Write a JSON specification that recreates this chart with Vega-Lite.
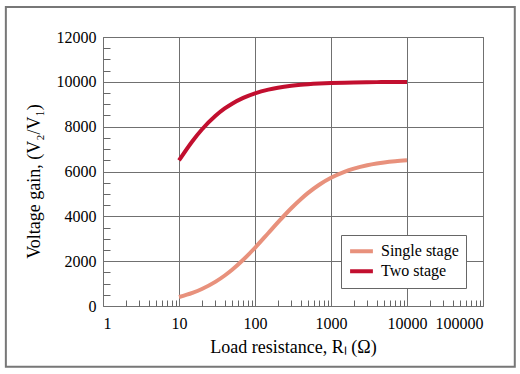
{
  "$schema": "https://vega.github.io/schema/vega-lite/v6.json",
  "width": 380,
  "height": 269,
  "autosize": "none",
  "padding": {"left": 103, "top": 37, "right": 37, "bottom": 68},
  "background": "white",
  "config": {
    "font": "Liberation Serif",
    "view": {"stroke": "#666666", "strokeWidth": 1},
    "axis": {
      "labelFont": "Liberation Serif",
      "titleFont": "Liberation Serif",
      "labelFontSize": 16,
      "titleFontSize": 18,
      "titleFontWeight": "normal",
      "labelColor": "black",
      "titleColor": "black",
      "gridColor": "#707070",
      "gridOpacity": 1,
      "gridWidth": 1
    }
  },
  "datasets": {
    "curves": [
      {"R": 10, "gain": 402, "stage": "Single stage"},
      {"R": 15, "gain": 586, "stage": "Single stage"},
      {"R": 20, "gain": 759, "stage": "Single stage"},
      {"R": 30, "gain": 1076, "stage": "Single stage"},
      {"R": 40, "gain": 1361, "stage": "Single stage"},
      {"R": 50, "gain": 1618, "stage": "Single stage"},
      {"R": 70, "gain": 2063, "stage": "Single stage"},
      {"R": 100, "gain": 2598, "stage": "Single stage"},
      {"R": 150, "gain": 3257, "stage": "Single stage"},
      {"R": 200, "gain": 3729, "stage": "Single stage"},
      {"R": 300, "gain": 4361, "stage": "Single stage"},
      {"R": 400, "gain": 4765, "stage": "Single stage"},
      {"R": 500, "gain": 5046, "stage": "Single stage"},
      {"R": 700, "gain": 5410, "stage": "Single stage"},
      {"R": 1000, "gain": 5719, "stage": "Single stage"},
      {"R": 1500, "gain": 5985, "stage": "Single stage"},
      {"R": 2000, "gain": 6128, "stage": "Single stage"},
      {"R": 3000, "gain": 6278, "stage": "Single stage"},
      {"R": 4000, "gain": 6355, "stage": "Single stage"},
      {"R": 5000, "gain": 6403, "stage": "Single stage"},
      {"R": 7000, "gain": 6458, "stage": "Single stage"},
      {"R": 10000, "gain": 6500, "stage": "Single stage"},
      {"R": 10, "gain": 6494, "stage": "Two stage"},
      {"R": 15, "gain": 7353, "stage": "Two stage"},
      {"R": 20, "gain": 7874, "stage": "Two stage"},
      {"R": 30, "gain": 8475, "stage": "Two stage"},
      {"R": 40, "gain": 8811, "stage": "Two stage"},
      {"R": 50, "gain": 9025, "stage": "Two stage"},
      {"R": 70, "gain": 9284, "stage": "Two stage"},
      {"R": 100, "gain": 9488, "stage": "Two stage"},
      {"R": 150, "gain": 9653, "stage": "Two stage"},
      {"R": 200, "gain": 9737, "stage": "Two stage"},
      {"R": 300, "gain": 9823, "stage": "Two stage"},
      {"R": 400, "gain": 9867, "stage": "Two stage"},
      {"R": 500, "gain": 9893, "stage": "Two stage"},
      {"R": 700, "gain": 9923, "stage": "Two stage"},
      {"R": 1000, "gain": 9946, "stage": "Two stage"},
      {"R": 1500, "gain": 9964, "stage": "Two stage"},
      {"R": 2000, "gain": 9973, "stage": "Two stage"},
      {"R": 3000, "gain": 9982, "stage": "Two stage"},
      {"R": 4000, "gain": 9987, "stage": "Two stage"},
      {"R": 5000, "gain": 9989, "stage": "Two stage"},
      {"R": 7000, "gain": 9992, "stage": "Two stage"},
      {"R": 10000, "gain": 9995, "stage": "Two stage"}
    ]
  },
  "layer": [
    {
      "data": {"values": [{}]},
      "mark": {"type": "rect", "fill": null, "stroke": "#777777", "strokeWidth": 2},
      "encoding": {
        "x": {"datum": 0.0527, "type": "quantitative", "scale": {"type": "log", "domain": [1, 100000]}, "axis": null},
        "x2": {"datum": 262000},
        "y": {"datum": -2711, "type": "quantitative", "scale": {"domain": [0, 12000]}, "axis": null},
        "y2": {"datum": 13333}
      }
    },
    {
      "data": {"name": "curves"},
      "mark": {"type": "line", "strokeWidth": 4, "strokeCap": "butt", "interpolate": "monotone"},
      "encoding": {
        "x": {
          "field": "R", "type": "quantitative",
          "scale": {"type": "log", "domain": [1, 100000]},
          "axis": {
            "values": [1, 10, 100, 1000, 10000, 100000],
            "format": "d", "grid": true, "ticks": false, "domain": false,
            "labelPadding": 9, "titlePadding": 7,
            "title": "Load resistance, Rₗ (Ω)"
          }
        },
        "y": {
          "field": "gain", "type": "quantitative",
          "scale": {"domain": [0, 12000]},
          "axis": {
            "values": [0, 2000, 4000, 6000, 8000, 10000, 12000],
            "format": "d", "grid": true, "ticks": false, "domain": false,
            "labelPadding": 7, "titlePadding": 10,
            "titleX": -60, "titleY": 144,
            "title": "Voltage gain, (V₂/V₁)"
          }
        },
        "color": {
          "field": "stage", "type": "nominal",
          "scale": {"domain": ["Single stage", "Two stage"], "range": ["#e8917c", "#c20f2f"]},
          "legend": {
            "title": null, "orient": "none", "legendX": 238, "legendY": 198,
            "strokeColor": "#666666", "fillColor": "white", "padding": 7,
            "symbolType": "stroke", "symbolStrokeWidth": 4, "symbolSize": 520,
            "clipHeight": 18.5, "rowPadding": 1,
            "labelFont": "Liberation Serif", "labelFontSize": 16, "labelColor": "black", "labelOffset": 6
          }
        }
      }
    },
    {
      "data": {"name": "curves"},
      "mark": {"type": "point", "opacity": 0},
      "encoding": {
        "x": {
          "field": "R", "type": "quantitative",
          "scale": {"type": "log", "domain": [1, 100000]},
          "axis": {
            "orient": "bottom",
            "values": [2,3,4,5,6,7,8,9,20,30,40,50,60,70,80,90,200,300,400,500,600,700,800,900,2000,3000,4000,5000,6000,7000,8000,9000,20000,30000,40000,50000,60000,70000,80000,90000],
            "labels": false, "grid": false, "domain": false, "ticks": true,
            "tickSize": -6, "tickColor": "#666666", "title": null
          }
        },
        "y": {
          "field": "gain", "type": "quantitative",
          "scale": {"domain": [0, 12000]},
          "axis": {
            "orient": "left",
            "values": [500,1000,1500,2500,3000,3500,4500,5000,5500,6500,7000,7500,8500,9000,9500,10500,11000,11500],
            "labels": false, "grid": false, "domain": false, "ticks": true,
            "tickSize": -7, "tickColor": "#666666", "title": null
          }
        }
      }
    }
  ],
  "resolve": {"axis": {"x": "independent", "y": "independent"}}
}
